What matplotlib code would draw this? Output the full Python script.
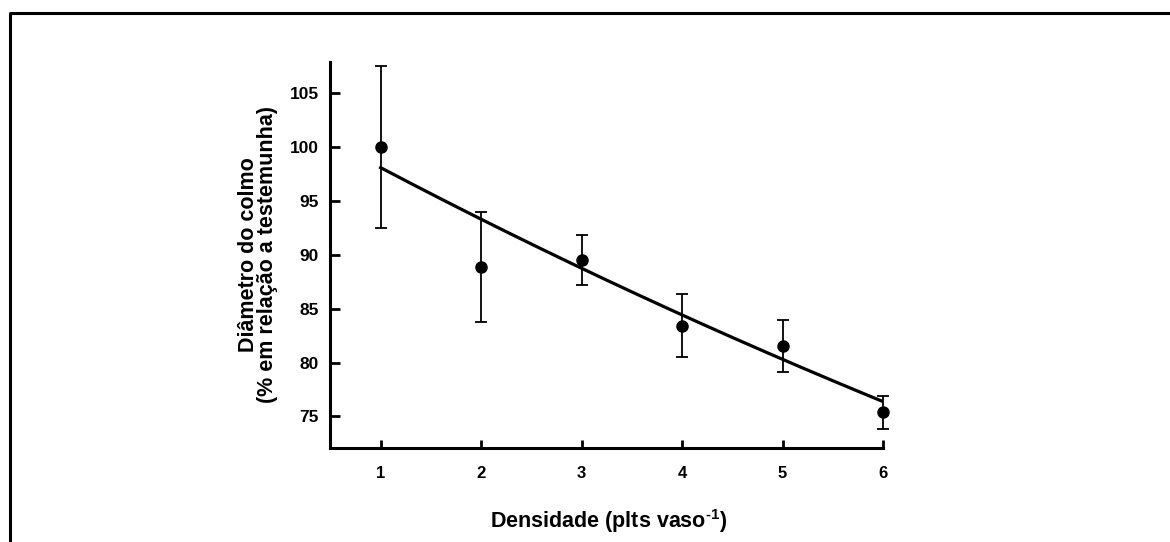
import numpy as np
import matplotlib
matplotlib.use("Agg")
import matplotlib.pyplot as plt
from matplotlib.lines import Line2D

plt.rcParams['font.family'] = ['Liberation Sans', 'DejaVu Sans']
plt.rcParams['font.weight'] = 'bold'
plt.rcParams['mathtext.fontset'] = 'custom'
plt.rcParams['mathtext.rm'] = 'Liberation Sans:bold'
plt.rcParams['mathtext.bf'] = 'Liberation Sans:bold'

# data
densidade = [1, 2, 3, 4, 5, 6]
diametro = [100.0, 88.9, 89.5, 83.4, 81.5, 75.4]
erro_sup = [7.5, 5.1, 2.3, 3.0, 2.4, 1.5]
erro_inf = [7.5, 5.1, 2.3, 2.9, 2.4, 1.6]

# fitted curve y = a * exp(-b * x)
fit_a = 103.1
fit_b = 0.05

fig = plt.figure(figsize=(11.7, 5.42), dpi=100)
ax = fig.add_axes([0.282, 0.1734, 0.4727, 0.7128])

xs = np.linspace(1, 6, 200)
ax.plot(xs, fit_a * np.exp(-fit_b * xs), color='black', lw=2.3, zorder=2)

ax.errorbar(densidade, diametro, yerr=[erro_inf, erro_sup], fmt='o', color='black',
            ms=8, elinewidth=1.3, capsize=4, capthick=1.3, zorder=3, clip_on=False)

ax.set_xlim(0.495, 6.0)
ax.set_ylim(72.07, 107.9)
ax.set_xticks(densidade)
ax.set_yticks([75, 80, 85, 90, 95, 100, 105])

for s in ['top', 'right']:
    ax.spines[s].set_visible(False)
for s in ['left', 'bottom']:
    ax.spines[s].set_linewidth(2.2)

ax.tick_params(axis='y', direction='in', length=7, width=2, labelsize=12.5, pad=8)
ax.tick_params(axis='x', direction='in', length=6, width=2, labelsize=12, pad=13)

ax.set_xlabel(r'Densidade (plts vaso$^{\text{-1}}$)', fontsize=15.5, fontweight='bold')
ax.set_ylabel('Diâmetro do colmo\n(% em relação a testemunha)', fontsize=15.5,
              fontweight='bold', linespacing=0.9)
ax.xaxis.set_label_coords(0.503, -0.152)
ax.yaxis.set_label_coords(-0.094, 0.5)

# outer frame (left and top edges only)
fig.add_artist(Line2D([10 / 1170, 10 / 1170, 1.0], [0.0, 1 - 13 / 542, 1 - 13 / 542],
                      transform=fig.transFigure, color='black', lw=2.2))

fig.savefig('out.png', dpi=100)
